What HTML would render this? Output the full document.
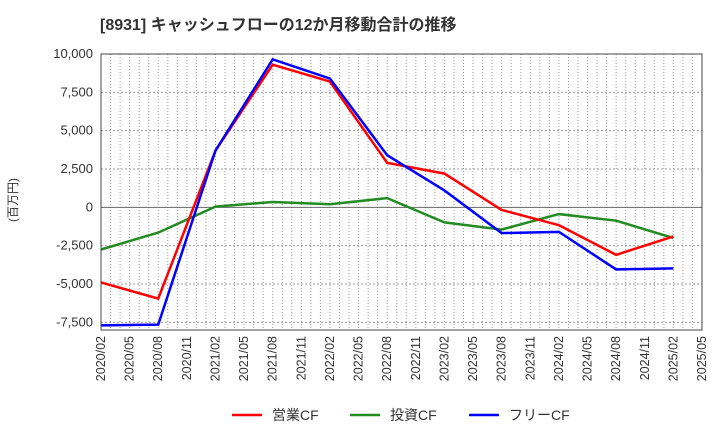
<!DOCTYPE html>
<html><head><meta charset="utf-8"><style>
body{margin:0;background:#fff;}
svg text{font-family:"Liberation Sans","Noto Sans CJK JP",sans-serif;}
</style></head><body>
<svg id="chart" width="720" height="440" xmlns="http://www.w3.org/2000/svg">
<text x="100" y="30" font-size="16" font-weight="bold" fill="#333">[8931]  キャッシュフローの12か月移動合計の推移</text>
<text transform="translate(17,200) rotate(-90)" font-size="12" fill="#333" text-anchor="middle">(百万円)</text>
<g id="grid"></g><g id="series"></g><g id="axes"></g>
<g>
<line x1="232" y1="415" x2="262" y2="415" stroke="#ff0000" stroke-width="2.5"/>
<text x="272" y="420" font-size="14" fill="#333">営業CF</text>
<line x1="350" y1="415" x2="380" y2="415" stroke="#228b22" stroke-width="2.5"/>
<text x="390" y="420" font-size="14" fill="#333">投資CF</text>
<line x1="469" y1="415" x2="499" y2="415" stroke="#0000ff" stroke-width="2.5"/>
<text x="509" y="420" font-size="14" fill="#333">フリーCF</text>
</g>
</svg>
<script>
const xLabels=["2020/02","2020/05","2020/08","2020/11","2021/02","2021/05","2021/08","2021/11","2022/02","2022/05","2022/08","2022/11","2023/02","2023/05","2023/08","2023/11","2024/02","2024/05","2024/08","2024/11","2025/02","2025/05"];
const yTicks=[10000,7500,5000,2500,0,-2500,-5000,-7500];
const pointMonths=[0,6,12,18,24,30,36,42,48,54,60];
const operatingCF=[-4900,-5950,3700,9300,8200,2900,2200,-170,-1160,-3100,-1900];
const investingCF=[-2750,-1650,50,350,200,600,-980,-1450,-440,-870,-2000];
const freeCF=[-7700,-7650,3700,9650,8400,3400,1100,-1680,-1600,-4050,-3980];
const L=101,R=702,T=54,B=330,minY=-8000,maxY=10000,totalMonths=63;
const xs=m=>L+(R-L)*m/totalMonths;
const ys=v=>B-(B-T)*(v-minY)/(maxY-minY);
const NS="http://www.w3.org/2000/svg";
function mk(tag,attrs,parent){const e=document.createElementNS(NS,tag);for(const k in attrs)e.setAttribute(k,attrs[k]);parent.appendChild(e);return e;}
const grid=document.getElementById('grid'),axes=document.getElementById('axes'),series=document.getElementById('series');
for(let m=1;m<totalMonths;m++){
 const l=mk('line',{x1:xs(m),x2:xs(m),y1:T,y2:B,stroke:'#999','stroke-width':1,'stroke-dasharray':'1,2'},grid);
 
 
}
yTicks.forEach(v=>{
 const l=mk('line',{x1:L,x2:R,y1:ys(v),y2:ys(v),stroke:v===0?'#666':'#999','stroke-width':1,'stroke-dasharray':v===0?'':'2,2'},grid);
 
 
 const t=mk('text',{x:L-8,y:ys(v)+4,'font-size':13,fill:'#333','text-anchor':'end'},axes);
 t.textContent=v.toLocaleString('en-US');
 
 
});
xLabels.forEach((s,i)=>{
 const x=xs(i*3);
 const t=mk('text',{transform:`translate(${x+4},${B+6}) rotate(-90)`,'font-size':12.5,fill:'#333','text-anchor':'end'},axes);
 t.textContent=s;
 
 
});
const frame=mk('rect',{x:L,y:T,width:R-L,height:B-T,fill:'none',stroke:'#444','stroke-width':1},axes);


function line(vals,color,name){
 const p=mk('polyline',{points:vals.map((v,i)=>xs(pointMonths[i])+','+ys(v)).join(' '),fill:'none',stroke:color,'stroke-width':2.5},series);
 
 
}
line(investingCF,'#228b22','investing-cf-line');
line(operatingCF,'#ff0000','operating-cf-line');
line(freeCF,'#0000ff','free-cf-line');
</script>
</body></html>
